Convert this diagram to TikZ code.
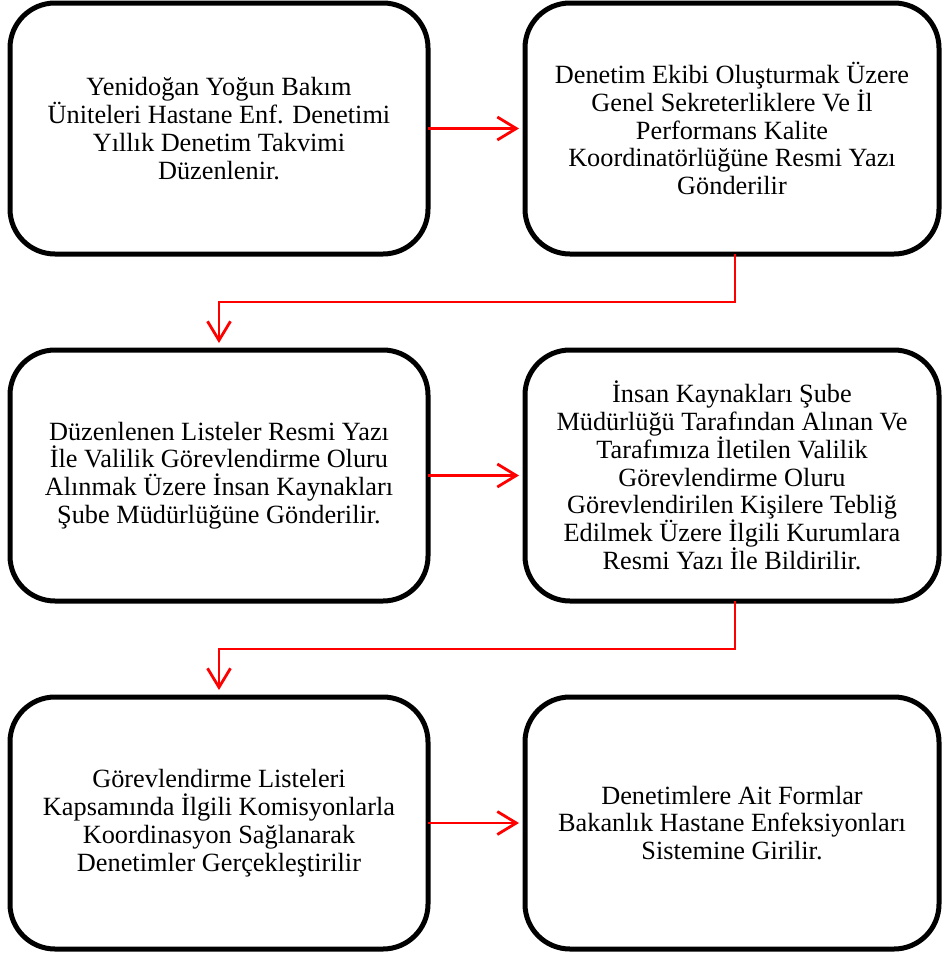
\documentclass[tikz,border=0pt]{standalone}
\usepackage{fontspec}
\setmainfont{Liberation Serif}
\usetikzlibrary{arrows.meta}
\tikzset{
  stepbox/.style={draw=black, line width=5pt, rounded corners=45pt, outer sep=0pt,
    align=center, text=black, font=\fontsize{26.3pt}{27.8pt}\selectfont},
  flowarrow/.style={draw=red, line width=2.8pt,
    -{Straight Barb[length=19pt,width=23pt]}},
}
\begin{document}
\begin{tikzpicture}[x=1pt,y=-1pt]
\useasboundingbox (0,0) rectangle (944,954);
% column 1: x 10..428, column 2: x 525..939
\node[stepbox, minimum width=418pt, minimum height=251pt] (b1) at (219,128.5)
  {Yenidoğan Yoğun Bakım\\Üniteleri Hastane Enf. Denetimi\\Yıllık Denetim Takvimi\\Düzenlenir.};
\node[stepbox, minimum width=414pt, minimum height=251pt] (b2) at (732,128.5)
  {Denetim Ekibi Oluşturmak Üzere\\Genel Sekreterliklere Ve İl\\Performans Kalite\\Koordinatörlüğüne Resmi Yazı\\Gönderilir};
\node[stepbox, minimum width=418pt, minimum height=251pt] (b3) at (219,475.5)
  {Düzenlenen Listeler Resmi Yazı\\İle Valilik Görevlendirme Oluru\\Alınmak Üzere İnsan Kaynakları\\Şube Müdürlüğüne Gönderilir.};
\node[stepbox, minimum width=414pt, minimum height=251pt] (b4) at (732,475.5)
  {İnsan Kaynakları Şube\\Müdürlüğü Tarafından Alınan Ve\\Tarafımıza İletilen Valilik\\Görevlendirme Oluru\\Görevlendirilen Kişilere Tebliğ\\Edilmek Üzere İlgili Kurumlara\\Resmi Yazı İle Bildirilir.};
\node[stepbox, minimum width=418pt, minimum height=252pt] (b5) at (219,823)
  {Görevlendirme Listeleri\\Kapsamında İlgili Komisyonlarla\\Koordinasyon Sağlanarak\\Denetimler Gerçekleştirilir};
\node[stepbox, minimum width=414pt, minimum height=252pt] (b6) at (732,823)
  {Denetimlere Ait Formlar\\Bakanlık Hastane Enfeksiyonları\\Sistemine Girilir.};
% connectors
\draw[flowarrow] (b1.east) -- ([xshift=-6pt]b2.west);
\draw[flowarrow] ([xshift=3pt]b2.south) -- ++(0,48) -| ([yshift=7pt]b3.north);
\draw[flowarrow] (b3.east) -- ([xshift=-6pt]b4.west);
\draw[flowarrow] ([xshift=3pt]b4.south) -- ++(0,48) -| ([yshift=7pt]b5.north);
\draw[flowarrow] (b5.east) -- ([xshift=-6pt]b6.west);
\end{tikzpicture}
\end{document}
